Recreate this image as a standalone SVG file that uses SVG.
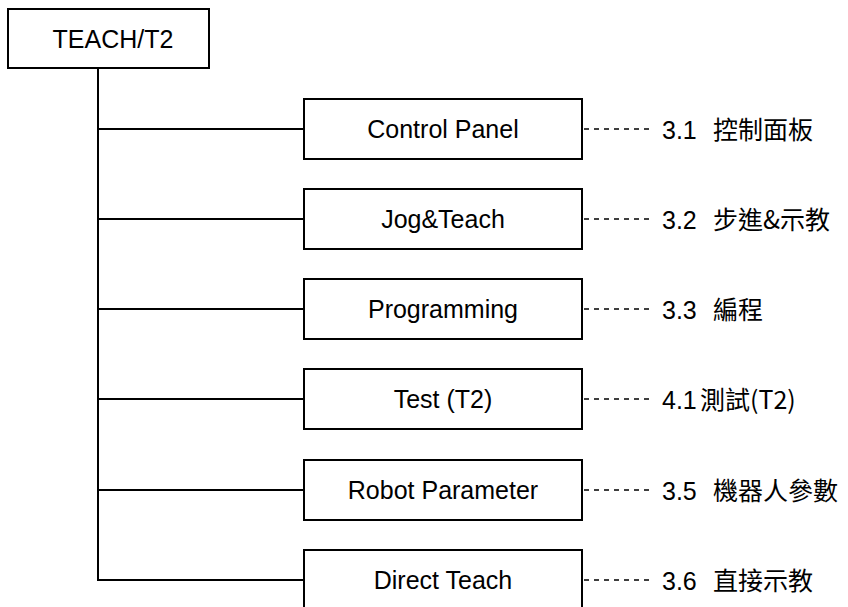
<svg xmlns="http://www.w3.org/2000/svg" width="848" height="607" viewBox="0 0 848 607">
<style>
.box{fill:#fff;stroke:#000;stroke-width:2}
.t{font-family:"Liberation Sans",Arial,sans-serif;font-size:25px;fill:#000;text-anchor:middle}
.lbl{font-family:"Liberation Sans","Noto Sans CJK TC",sans-serif;font-size:25px;fill:#000}
.cjk{font-family:"Noto Sans CJK TC",sans-serif;font-size:25px}
.ln{stroke:#000;stroke-width:2;fill:none}
.dash{stroke:#000;stroke-width:1.5;stroke-dasharray:5 5;fill:none}
</style>
<rect width="848" height="607" fill="#fff"/>
<g id="connectors">
<path class="ln" d="M98,68 V580 H304 M98,129 H304 M98,219 H304 M98,309 H304 M98,399 H304 M98,490 H304"/>
<path class="dash" d="M584,129 H650 M584,219 H650 M584,309 H650 M584,399 H650 M584,490 H650 M584,580 H650"/>
</g>
<g id="root"><rect class="box" x="8" y="9" width="201" height="59"/><text class="t" x="113" y="48">TEACH/T2</text></g>
<g id="n1"><rect class="box" x="304" y="99" width="278" height="60"/><text class="t" x="443" y="138">Control Panel</text></g>
<g id="n2"><rect class="box" x="304" y="189" width="278" height="60"/><text class="t" x="443" y="228">Jog&amp;Teach</text></g>
<g id="n3"><rect class="box" x="304" y="279" width="278" height="60"/><text class="t" x="443" y="318">Programming</text></g>
<g id="n4"><rect class="box" x="304" y="369" width="278" height="60"/><text class="t" x="443" y="408">Test (T2)</text></g>
<g id="n5"><rect class="box" x="304" y="460" width="278" height="60"/><text class="t" x="443" y="499">Robot Parameter</text></g>
<g id="n6"><rect class="box" x="304" y="550" width="278" height="62"/><text class="t" x="443" y="589">Direct Teach</text></g>
<g id="labels">
<text class="lbl" x="662" y="139">3.1<tspan class="cjk" x="713">控制面板</tspan></text>
<text class="lbl" x="662" y="229">3.2<tspan class="cjk" x="713">步進&amp;示教</tspan></text>
<text class="lbl" x="662" y="319">3.3<tspan class="cjk" x="713">編程</tspan></text>
<text class="lbl" x="662" y="409">4.1<tspan class="cjk" x="700">測試(T2)</tspan></text>
<text class="lbl" x="662" y="500">3.5<tspan class="cjk" x="713">機器人參數</tspan></text>
<text class="lbl" x="662" y="590">3.6<tspan class="cjk" x="713">直接示教</tspan></text>
</g>
</svg>
